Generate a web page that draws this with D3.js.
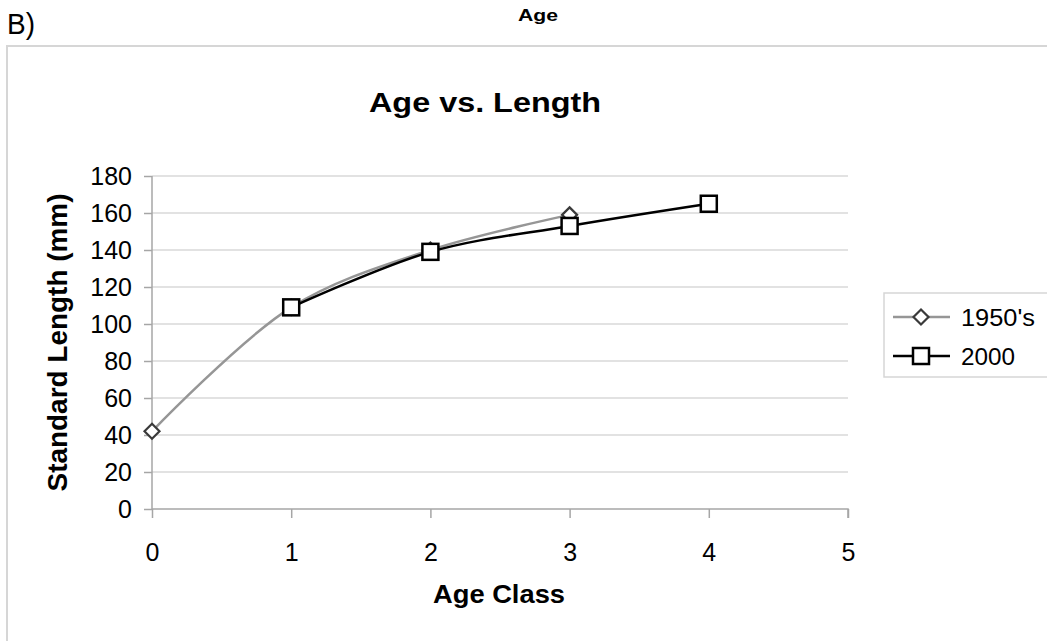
<!DOCTYPE html>
<html>
<head>
<meta charset="utf-8">
<script src="https://cdn.jsdelivr.net/npm/d3@7"></script>
<style>
  body { margin: 0; background: #fff; }
  text { font-family: "Liberation Sans", Arial, sans-serif; fill: #000; }
</style>
</head>
<body>
<svg id="chart" width="1047" height="641"></svg>
<script>
// Data
var ageClasses1950 = [0, 1, 2, 3];
var length1950 = [42, 109, 140, 159];
var ageClasses2000 = [1, 2, 3, 4];
var length2000 = [109, 139, 153, 165];
var xTicks = [0, 1, 2, 3, 4, 5];
var yTicks = [0, 20, 40, 60, 80, 100, 120, 140, 160, 180];
var seriesNames = ["1950's", "2000"];

const svg = d3.select('#chart');

// outer chart frame
svg.append('rect')
  .attr('x', 7).attr('y', 46)
  .attr('width', 1060).attr('height', 620)
  .attr('fill', 'none')
  .attr('stroke', '#d6d6d6')
  .attr('stroke-width', 2);

svg.append('text').attr('x', 7).attr('y', 34)
  .attr('font-size', 29)
  .attr('textLength', 28).attr('lengthAdjust', 'spacingAndGlyphs')
  .text('B)');
svg.append('text').attr('x', 538).attr('y', 21)
  .attr('text-anchor', 'middle').attr('font-size', 16)
  .attr('font-weight', 'bold')
  .attr('textLength', 40).attr('lengthAdjust', 'spacingAndGlyphs')
  .text('Age');

svg.append('text').attr('x', 485).attr('y', 112)
  .attr('text-anchor', 'middle').attr('font-size', 28)
  .attr('font-weight', 'bold')
  .attr('textLength', 232).attr('lengthAdjust', 'spacingAndGlyphs')
  .text('Age vs. Length');

// scales
const x = d3.scaleLinear().domain([0, 5]).range([152, 848]);
const y = d3.scaleLinear().domain([0, 180]).range([509, 176]);

// gridlines
svg.append('g').selectAll('line')
  .data(yTicks.filter(d => d > 0))
  .join('line')
  .attr('x1', x(0)).attr('x2', x(5))
  .attr('y1', d => y(d)).attr('y2', d => y(d))
  .attr('stroke', '#d9d9d9').attr('stroke-width', 1.5);

// y axis
const yAxis = svg.append('g')
  .attr('transform', `translate(${x(0)},0)`)
  .call(d3.axisLeft(y).tickValues(yTicks).tickFormat(d3.format('d'))
    .tickSize(8).tickPadding(12));
// x axis
const xAxis = svg.append('g')
  .attr('transform', `translate(0,${y(0)})`)
  .call(d3.axisBottom(x).tickValues(xTicks).tickFormat(d3.format('d'))
    .tickSize(9).tickPadding(25));

[yAxis, xAxis].forEach(g => {
  g.select('.domain').attr('stroke', '#a6a6a6').attr('stroke-width', 1.5);
  g.selectAll('.tick line').attr('stroke', '#a6a6a6').attr('stroke-width', 1.5);
  g.selectAll('.tick text').attr('font-size', 25)
    .attr('font-family', '"Liberation Sans", Arial, sans-serif').attr('fill', '#000');
});
// keep domain without end caps
yAxis.select('.domain').attr('d', `M0,${y(180)}V${y(0)}`);
xAxis.select('.domain').attr('d', `M${x(0)},0H${x(5)}V9`);

svg.append('text')
  .attr('transform', `translate(67,${(y(0) + y(180)) / 2}) rotate(-90)`)
  .attr('text-anchor', 'middle').attr('font-size', 27)
  .attr('font-weight', 'bold')
  .attr('textLength', 298).attr('lengthAdjust', 'spacingAndGlyphs')
  .text('Standard Length (mm)');
svg.append('text').attr('x', 499).attr('y', 603)
  .attr('text-anchor', 'middle').attr('font-size', 25)
  .attr('font-weight', 'bold')
  .attr('textLength', 132).attr('lengthAdjust', 'spacingAndGlyphs')
  .text('Age Class');

const line = d3.line()
  .x(d => x(d[0])).y(d => y(d[1]))
  .curve(d3.curveCatmullRom.alpha(0.5));

const pts1950 = ageClasses1950.map((a, i) => [a, length1950[i]]);
const pts2000 = ageClasses2000.map((a, i) => [a, length2000[i]]);

const diamond = (g, cx, cy) => g.append('path')
  .attr('d', `M${cx},${cy - 7.5}L${cx + 7.5},${cy}L${cx},${cy + 7.5}L${cx - 7.5},${cy}Z`)
  .attr('fill', '#fff').attr('stroke', '#3a3a3a').attr('stroke-width', 2.2);
const square = (g, cx, cy) => g.append('rect')
  .attr('x', cx - 8).attr('y', cy - 8).attr('width', 16).attr('height', 16)
  .attr('fill', '#fff').attr('stroke', '#000').attr('stroke-width', 2.5);

const plot = svg.append('g');
plot.append('path').datum(pts1950).attr('d', line)
  .attr('fill', 'none').attr('stroke', '#969696').attr('stroke-width', 2.5);
pts1950.forEach(p => diamond(plot, x(p[0]), y(p[1])));
plot.append('path').datum(pts2000).attr('d', line)
  .attr('fill', 'none').attr('stroke', '#000').attr('stroke-width', 2.5);
pts2000.forEach(p => square(plot, x(p[0]), y(p[1])));

// legend
const legend = svg.append('g');
legend.append('rect').attr('x', 884).attr('y', 293)
  .attr('width', 180).attr('height', 84)
  .attr('fill', '#fff').attr('stroke', '#d6d6d6').attr('stroke-width', 1.5);
[317, 356].forEach((ly, i) => {
  legend.append('line').attr('x1', 893).attr('x2', 950)
    .attr('y1', ly).attr('y2', ly)
    .attr('stroke', i === 0 ? '#969696' : '#000').attr('stroke-width', 2.5);
  if (i === 0) diamond(legend, 921, ly); else square(legend, 921, ly);
  legend.append('text').attr('x', 961).attr('y', ly + 9)
    .attr('font-size', 24)
    .attr('textLength', i === 0 ? 74 : 54).attr('lengthAdjust', 'spacingAndGlyphs')
    .text(seriesNames[i]);
});
</script>
</body>
</html>
